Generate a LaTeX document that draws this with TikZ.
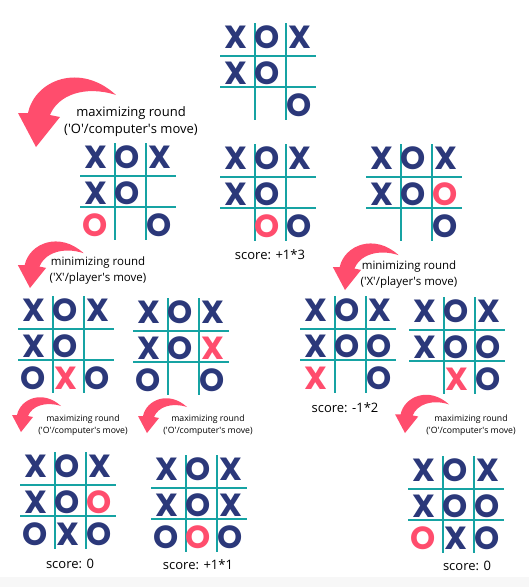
\documentclass[tikz,border=0pt]{standalone}
\usepackage{fontspec}
\setmainfont{Open Sans}
\newfontfamily\markfont{Poppins}
\usepackage{tikz}

\definecolor{tttnavy}{RGB}{43,56,122}
\definecolor{tttpink}{RGB}{255,77,109}
\definecolor{tttteal}{RGB}{22,163,163}

% marks: upper case navy, lower case pink
\newcommand\tttX{\color{tttnavy}X}
\newcommand\tttO{\color{tttnavy}O}
\newcommand\tttx{\color{tttpink}X}
\newcommand\ttto{\color{tttpink}O}
\newcommand\sq{\textquotesingle}

% board: name, x and y of the first grid crossing, three rows
\newcommand\tttboard[6]{%
  \begin{scope}[shift={(#2,#3)}]
    \draw[gridline] (-35,0) -- (61,0);
    \draw[gridline] (-35,31) -- (61,31);
    \draw[gridline] (0,-33) -- (0,64);
    \draw[gridline] (31,-33) -- (31,64);
    \foreach \m [count=\c] in {#4} {\if\m-\else\node[markcell] (#1-1\c) at ({-51.5+32*\c},-19) {\csname ttt\m\endcsname};\fi}
    \foreach \m [count=\c] in {#5} {\if\m-\else\node[markcell] (#1-2\c) at ({-51.5+32*\c},17) {\csname ttt\m\endcsname};\fi}
    \foreach \m [count=\c] in {#6} {\if\m-\else\node[markcell] (#1-3\c) at ({-51.5+32*\c},49.5) {\csname ttt\m\endcsname};\fi}
  \end{scope}}

% curved arrow: tip position and scale
\newcommand\swoosh[3]{%
  \fill[tttpink, shift={(#1,#2)}, scale=#3]
    (-8,-34) .. controls (-1,-67) and (44,-85) .. (80,-52)
    .. controls (49,-62) and (22,-52) .. (14,-32)
    -- (24,-30) -- (0,0) -- (-18,-34) -- cycle;}

\begin{document}
\begin{tikzpicture}[
  x=1pt, y=-1pt,
  gridline/.style={draw=tttteal, line width=1.8pt},
  markcell/.style={inner sep=0pt, font=\markfont\bfseries\fontsize{32}{32}\selectfont},
  bigtext/.style={align=center, inner sep=0pt, font=\fontsize{13}{17.5}\selectfont},
  midtext/.style={align=center, inner sep=0pt, font=\fontsize{11.5}{15.6}\selectfont},
  smalltext/.style={align=center, inner sep=0pt, font=\fontsize{8.7}{12.3}\selectfont},
  score/.style={inner sep=0pt, font=\fontsize{13}{15}\selectfont}
]
\useasboundingbox (0,0) rectangle (529,587);
\fill[gray!6] (0,577) rectangle (529,587);

% Start position
\tttboard{T}{255}{56}{X,O,X}{X,O,-}{-,-,O}

% Maximizing round
\swoosh{36}{147}{1}
\node[bigtext] (max1) at (131,121.5) {maximizing round\\(\sq O\sq/computer\sq s move)};
\tttboard{A}{115}{176}{X,O,X}{X,O,-}{o,-,O}
\tttboard{B}{255}{177}{X,O,X}{X,O,-}{-,o,O}
\tttboard{C}{401}{177}{X,O,X}{X,O,o}{-,-,O}
\node[score] (scoreB) at (270,255) {score: +1*3};

% Minimizing rounds
\swoosh{30}{288}{0.67}
\node[midtext] (min1) at (98,270.5) {minimizing round\\(\sq X\sq/player\sq s move)};
\tttboard{D}{53}{329}{X,O,X}{X,O,-}{O,x,O}
\tttboard{E}{168}{331}{X,O,X}{X,O,x}{O,-,O}

\swoosh{345}{290}{0.67}
\node[midtext] (min2) at (409,274.5) {minimizing round\\(\sq X\sq/player\sq s move)};
\tttboard{F}{335}{329}{X,O,X}{X,O,O}{x,-,O}
\tttboard{G}{444}{330}{X,O,X}{X,O,O}{-,x,O}
\node[score] (scoreF) at (345,408) {score: -1*2};

% Last maximizing rounds
\swoosh{21}{432}{0.5}
\node[smalltext] (max2) at (83,425) {maximizing round\\(\sq O\sq/computer\sq s move)};
\tttboard{H}{55}{485}{X,O,X}{X,O,o}{O,X,O}
\node[score] (scoreH) at (70,564) {score: 0};

\swoosh{147}{433}{0.5}
\node[smalltext] (max3) at (208,425) {maximizing round\\(\sq O\sq/computer\sq s move)};
\tttboard{I}{186}{488}{X,O,X}{X,O,X}{O,o,O}
\node[score] (scoreI) at (198,565) {score: +1*1};

\swoosh{405}{433}{0.55}
\node[smalltext] (max4) at (471,425) {maximizing round\\(\sq O\sq/computer\sq s move)};
\tttboard{J}{443}{489}{X,O,X}{X,O,O}{o,X,O}
\node[score] (scoreJ) at (467,566) {score: 0};
\end{tikzpicture}
\end{document}
